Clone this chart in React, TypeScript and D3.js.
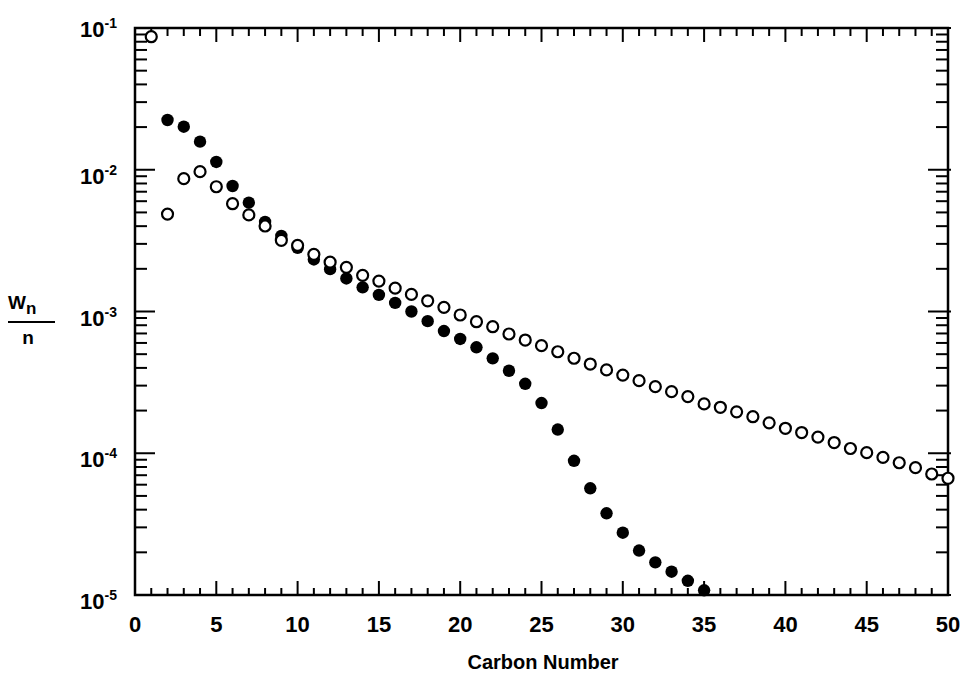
import React from "react";
import * as d3 from "d3";

// Carbon numbers
const openN: number[] = Array.from({ length: 50 }, (_, i) => i + 1);
const openW: number[] = [
  0.0868, 0.00487, 0.00865, 0.00969, 0.00759, 0.00576, 0.0048, 0.00401, 0.00318, 0.00293,
  0.00253, 0.00223, 0.00205, 0.0018, 0.00164, 0.00146, 0.00132, 0.00119, 0.00107, 0.000945,
  0.000847, 0.000781, 0.000694, 0.000629, 0.000574, 0.00052, 0.000468, 0.000426, 0.000387, 0.000356,
  0.000325, 0.000295, 0.000272, 0.000251, 0.000223, 0.000211, 0.000196, 0.000181, 0.000164, 0.00015,
  0.00014, 0.00013, 0.000119, 0.000108, 0.000101, 0.0000936, 0.0000857, 0.0000791, 0.0000714, 0.0000666,
];
const filledN: number[] = Array.from({ length: 34 }, (_, i) => i + 2);
const filledW: number[] = [
  0.02244, 0.02013, 0.01578, 0.01135, 0.00768, 0.00586, 0.00428, 0.00341, 0.00281,
  0.00233, 0.00199, 0.00171, 0.00148, 0.00131, 0.00115, 0.001, 0.000855, 0.000728, 0.00064,
  0.000559, 0.000467, 0.000382, 0.000309, 0.000226, 0.000147, 0.0000885, 0.0000566, 0.0000377, 0.0000275,
  0.0000206, 0.000017, 0.0000146, 0.0000126, 0.0000108,
];
const xTickLabels: number[] = [0, 5, 10, 15, 20, 25, 30, 35, 40, 45, 50];
const yExponents: number[] = [-1, -2, -3, -4, -5];
const xTitle = "Carbon Number";

const FONT = "'Liberation Sans', Arial, Helvetica, sans-serif";

export default function App() {
  const W = 962, H = 678;
  const left = 135, right = 948, top = 28, bottom = 595;
  const x = d3.scaleLinear().domain([0, 50]).range([left, right]);
  const y = d3.scaleLog().domain([1e-5, 1e-1]).range([bottom, top]);

  const xMinor = d3.range(0, 51);
  const yMinor: number[] = [];
  for (let e = -5; e < -1; e++) {
    for (let m = 2; m <= 9; m++) yMinor.push(m * Math.pow(10, e));
  }
  const yMajor = yExponents.map((e) => Math.pow(10, e));

  return (
    <svg width={W} height={H} style={{ position: "absolute", left: 0, top: 0, background: "#fff" }}>
      <rect x={0} y={0} width={W} height={H} fill="#fff" />
      {/* x ticks bottom and top */}
      {xMinor.map((v) => {
        const major = v % 5 === 0;
        return (
          <g key={"xt" + v} stroke="#000" strokeWidth={2}>
            <line x1={x(v)} x2={x(v)} y1={bottom} y2={bottom - (major ? 14 : 7)} />
            <line x1={x(v)} x2={x(v)} y1={top} y2={top + (major ? 14 : 8)} />
          </g>
        );
      })}
      {/* y ticks left and right */}
      {yMinor.map((v, i) => (
        <g key={"ym" + i} stroke="#000" strokeWidth={2}>
          <line x1={left} x2={left + 12} y1={y(v)} y2={y(v)} />
          <line x1={right} x2={right - 12} y1={y(v)} y2={y(v)} />
        </g>
      ))}
      {yMajor.map((v, i) => (
        <g key={"yM" + i} stroke="#000" strokeWidth={2}>
          <line x1={left} x2={left + 20} y1={y(v)} y2={y(v)} />
          <line x1={right + 3} x2={right - 20} y1={y(v)} y2={y(v)} />
        </g>
      ))}
      {/* frame */}
      <rect x={left} y={top} width={right - left} height={bottom - top} fill="none" stroke="#000" strokeWidth={2.5} />

      {/* filled markers */}
      {filledN.map((n, i) => (
        <circle key={"f" + n} cx={x(n)} cy={y(filledW[i])} r={6.2} fill="#000" />
      ))}
      {/* open markers */}
      {openN.map((n, i) => (
        <circle key={"o" + n} cx={x(n)} cy={y(openW[i])} r={5.5} fill="#fff" stroke="#000" strokeWidth={2.2} />
      ))}

      {/* x tick labels */}
      {xTickLabels.map((v) => (
        <text key={"xl" + v} x={x(v)} y={632} textAnchor="middle" fontFamily={FONT} fontWeight="bold" fontSize={22}>
          {v}
        </text>
      ))}
      {/* y tick labels */}
      {yExponents.map((e, i) => (
        <text key={"yl" + e} x={117} y={y(Math.pow(10, e)) + (i === 0 ? 9 : 14)} textAnchor="end" fontFamily={FONT} fontWeight="bold" fontSize={22}>
          10
          <tspan fontSize={14} dy={-9}>{String(e)}</tspan>
        </text>
      ))}
      {/* x title */}
      <text x={543} y={669} textAnchor="middle" fontFamily={FONT} fontWeight="bold" fontSize={20}>
        {xTitle}
      </text>
      {/* y title: Wn / n */}
      <text x={8} y={309} fontFamily={FONT} fontWeight="bold" fontSize={19}>
        W<tspan fontSize={17} dy={5}>n</tspan>
      </text>
      <line x1={8} x2={55} y1={322} y2={322} stroke="#000" strokeWidth={2} />
      <text x={28} y={344} textAnchor="middle" fontFamily={FONT} fontWeight="bold" fontSize={19}>
        n
      </text>
    </svg>
  );
}
